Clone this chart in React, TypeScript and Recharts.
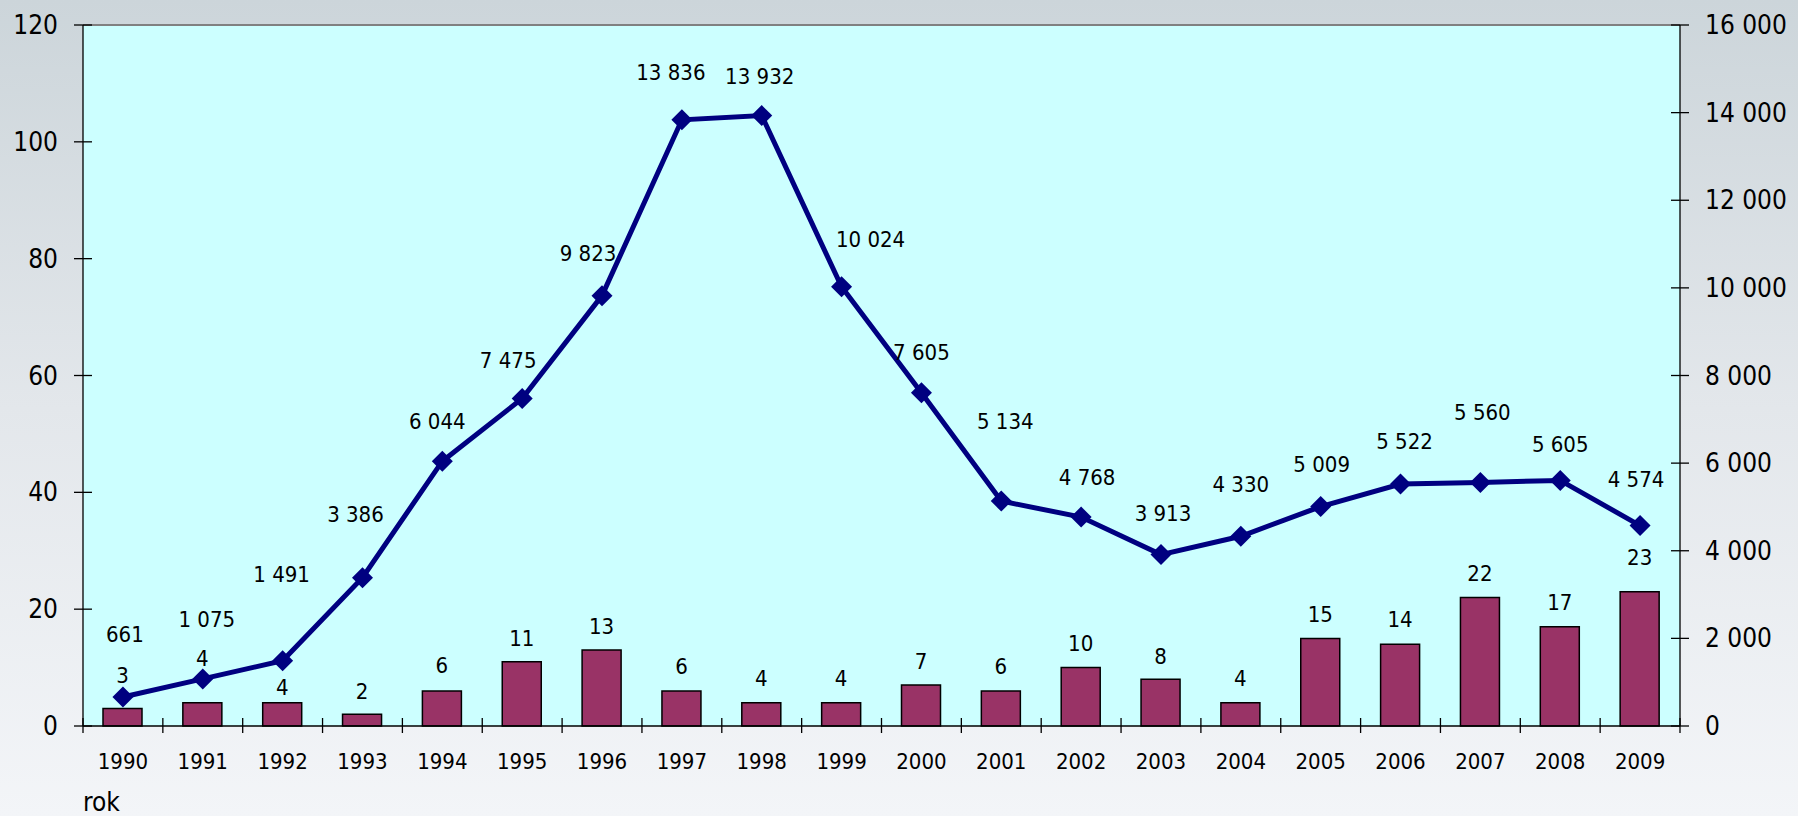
import React from 'react';
import { ComposedChart, Bar, Line, XAxis, YAxis, LabelList, ReferenceLine, CartesianGrid } from 'recharts';

const years = ['1990','1991','1992','1993','1994','1995','1996','1997','1998','1999','2000','2001','2002','2003','2004','2005','2006','2007','2008','2009'];
const barValues = [3,4,4,2,6,11,13,6,4,4,7,6,10,8,4,15,14,22,17,23];
const lineValues = [661,1075,1491,3386,6044,7475,9823,13836,13932,10024,7605,5134,4768,3913,4330,5009,5522,5560,5605,4574];
const leftTicks = [0,20,40,60,80,100,120];
const rightTicks = [0,2000,4000,6000,8000,10000,12000,14000,16000];

// label nudges (style, px)
const lineLabelLift = [63,59,86,63,40,38,42,47,39,47,40,80,40,41,52,42,43,70,36,46];
const lineLabelShift = [2,4,-1,-7,-5,-14,-14,-11,-2,29,0,4,6,2,0,1,4,2,0,-4];
const barLabelLift = [33,44,15,23,25,23,24,24,24,24,24,24,24,23,24,24,25,24,24,34];

const data = years.map((y, i) => ({ year: y, bars: barValues[i], line: lineValues[i] }));

const FONT = "Tahoma, 'DejaVu Sans Condensed', 'DejaVu Sans', sans-serif";
const fmt = (v: number) => String(v).replace(/\B(?=(\d{3})+(?!\d))/g, ' ');

const LeftTick = (props: any) => {
  const { x, y, payload } = props;
  return (
    <g>
      <line x1={x - 9} x2={x + 9} y1={y} y2={y} stroke="#000" strokeWidth={1.3} />
      <text x={x - 25} y={y} textAnchor="end" dominantBaseline="central" fontSize={26} fontFamily={FONT} fill="#000">{payload.value}</text>
    </g>
  );
};

const RightTick = (props: any) => {
  const { x, y, payload } = props;
  return (
    <g>
      <line x1={x - 9} x2={x + 9} y1={y} y2={y} stroke="#000" strokeWidth={1.3} />
      <text x={x + 25} y={y} textAnchor="start" dominantBaseline="central" fontSize={26} fontFamily={FONT} fill="#000">{fmt(payload.value)}</text>
    </g>
  );
};

const BottomTick = (props: any) => {
  const { x, y, payload, index } = props;
  const half = payload && payload.offset ? payload.offset : 1597 / 40;
  return (
    <g>
      <line x1={x - half} x2={x - half} y1={y - 8} y2={y + 7} stroke="#000" strokeWidth={1.3} />
      {index === years.length - 1 ? (
        <line x1={x + half} x2={x + half} y1={y - 8} y2={y + 7} stroke="#000" strokeWidth={1.3} />
      ) : null}
      <text x={x} y={y + 43} textAnchor="middle" fontSize={22} fontFamily={FONT} fill="#000">{payload.value}</text>
    </g>
  );
};

const Diamond = (props: any) => {
  const { cx, cy } = props;
  if (cx == null || cy == null) return null;
  const r = 10.5;
  return <path d={`M${cx},${cy - r}L${cx + r},${cy}L${cx},${cy + r}L${cx - r},${cy}Z`} fill="#000080" stroke="none" />;
};

const LineLabel = (props: any) => {
  const { x, y, index, value } = props;
  return (
    <text x={x + lineLabelShift[index]} y={y - lineLabelLift[index]} textAnchor="middle" dominantBaseline="central" fontSize={22} fontFamily={FONT} fill="#000">
      {fmt(value)}
    </text>
  );
};

const BarLabel = (props: any) => {
  const { x, y, width, index, value } = props;
  return (
    <text x={x + width / 2} y={y - barLabelLift[index]} textAnchor="middle" dominantBaseline="central" fontSize={22} fontFamily={FONT} fill="#000">
      {value}
    </text>
  );
};

export default function App() {
  return (
    <div style={{ position: 'absolute', left: 0, top: 0, width: 1798, height: 816, background: 'linear-gradient(to bottom, #ccd5da 0%, #e3e7eb 50%, #f3f5f8 100%)' }}>
      <ComposedChart width={1798} height={816} data={data} margin={{ top: 25, right: 0, bottom: 0, left: 0 }}>
        <CartesianGrid yAxisId="left" horizontal={false} vertical={false} fill="#ccffff" />
        <XAxis dataKey="year" height={90} axisLine={{ stroke: '#000', strokeWidth: 1.3 }} tickLine={false} tickSize={0} tickMargin={0} tick={<BottomTick />} interval={0} />
        <YAxis yAxisId="left" orientation="left" width={83} domain={[0, 120]} ticks={leftTicks} axisLine={{ stroke: '#000', strokeWidth: 1.3 }} tickLine={false} tickSize={0} tickMargin={0} tick={<LeftTick />} interval={0} />
        <YAxis yAxisId="right" orientation="right" width={118} domain={[0, 16000]} ticks={rightTicks} axisLine={{ stroke: '#000', strokeWidth: 1.3 }} tickLine={false} tickSize={0} tickMargin={0} tick={<RightTick />} interval={0} />
        <ReferenceLine yAxisId="left" y={120} stroke="#808080" strokeWidth={2} />
        <Bar yAxisId="left" dataKey="bars" fill="#993366" stroke="#000" strokeWidth={1.5} barSize={39} isAnimationActive={false}>
          <LabelList dataKey="bars" content={<BarLabel />} />
        </Bar>
        <Line yAxisId="right" dataKey="line" type="linear" stroke="#000080" strokeWidth={5} dot={<Diamond />} activeDot={false} isAnimationActive={false}>
          <LabelList dataKey="line" content={<LineLabel />} />
        </Line>
      </ComposedChart>
      <div style={{ position: 'absolute', left: 83, top: 786, fontFamily: FONT, fontSize: 26, lineHeight: '32px', color: '#000' }}>rok</div>
    </div>
  );
}
